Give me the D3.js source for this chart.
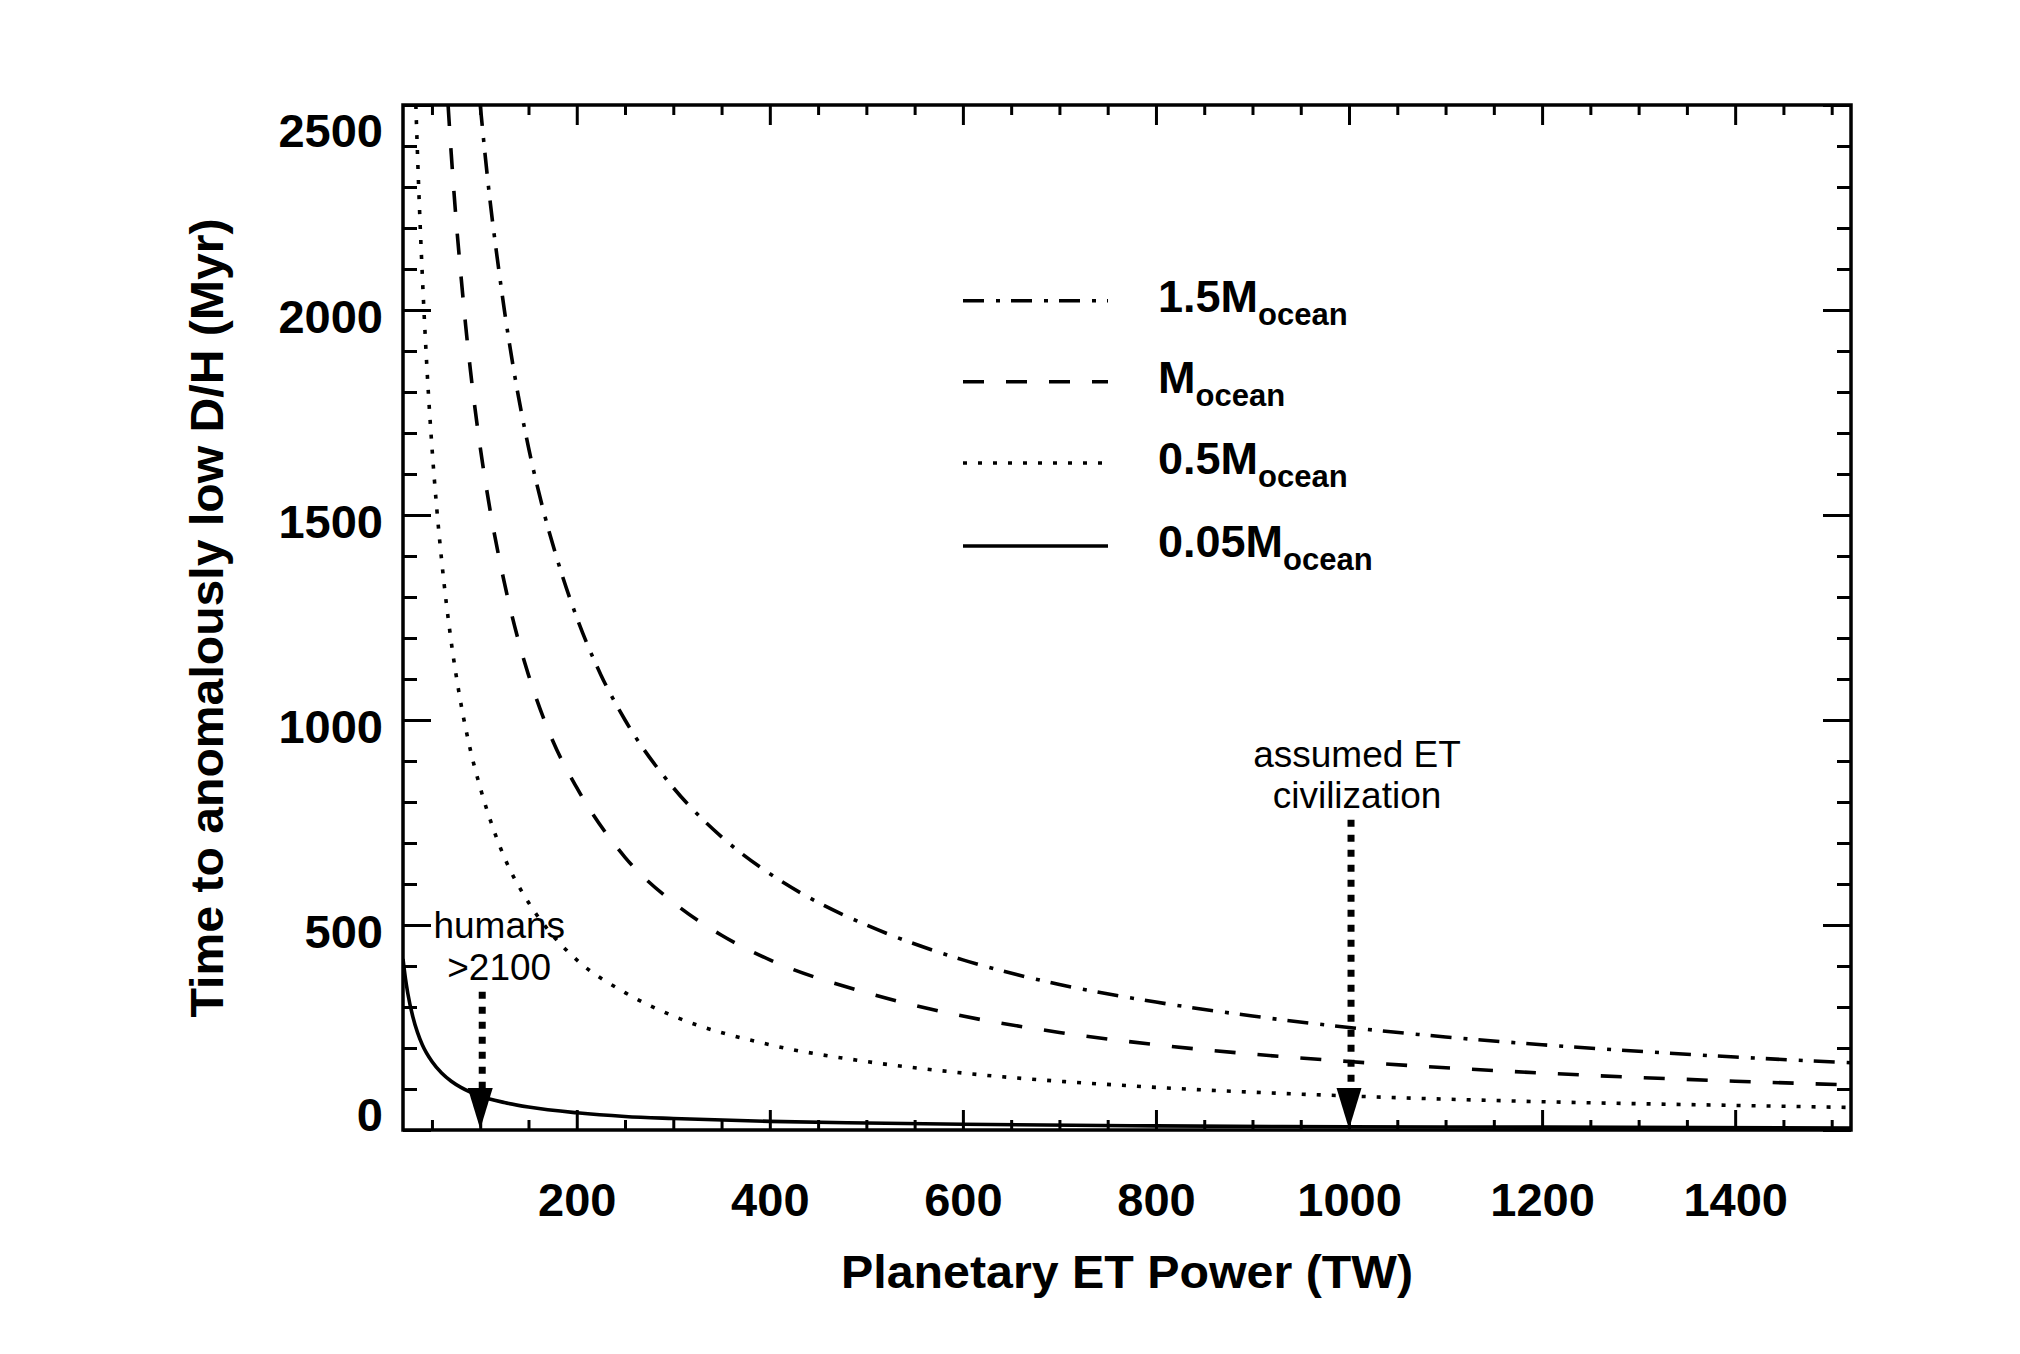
<!DOCTYPE html>
<html>
<head>
<meta charset="utf-8">
<script src="https://cdn.jsdelivr.net/npm/d3@7"></script>
<style>
  html, body { margin: 0; padding: 0; background: #ffffff; }
  svg { display: block; }
</style>
</head>
<body>
<svg id="chart" width="2020" height="1354"></svg>
<script>
// ---------- data ----------
const power15 = [100, 105, 110, 118, 125, 135, 150, 165, 180, 200, 225, 250, 300, 350, 400, 450, 500, 600, 700, 800, 900, 1000, 1100, 1200, 1300, 1400, 1520];
const time15  = [2500, 2380, 2270, 2120, 2000, 1850, 1665, 1515, 1390, 1250, 1110, 1000, 835, 715, 625, 555, 500, 415, 355, 312, 278, 250, 227, 208, 192, 178, 164];

const power10 = [66.7, 70, 75, 80, 85, 90, 100, 110, 125, 140, 150, 175, 200, 250, 300, 350, 400, 500, 600, 700, 800, 900, 1000, 1200, 1400, 1520];
const time10  = [2500, 2380, 2220, 2085, 1960, 1850, 1665, 1515, 1335, 1190, 1110, 950, 835, 665, 555, 475, 415, 335, 278, 238, 208, 185, 167, 139, 119, 110];

const power05 = [33.3, 36, 40, 45, 50, 55, 60, 70, 80, 90, 100, 115, 125, 150, 175, 200, 250, 300, 400, 500, 600, 800, 1000, 1200, 1400, 1520];
const time05  = [2500, 2315, 2085, 1850, 1665, 1515, 1390, 1190, 1040, 925, 835, 725, 665, 555, 475, 415, 335, 278, 208, 167, 139, 104, 83, 69, 60, 55];

const power005 = [20, 22.5, 25, 30, 35, 40, 50, 60, 70, 80, 100, 125, 150, 200, 250, 300, 400, 500, 600, 800, 1000, 1200, 1520];
const time005  = [417, 370, 333, 278, 238, 208, 167, 139, 119, 104, 83, 67, 56, 42, 33, 28, 21, 17, 14, 10, 8, 7, 5];

const seriesNames   = ["1.5", "", "0.5", "0.05"];   // prefix before "M_ocean"
const xTickLabels   = [200, 400, 600, 800, 1000, 1200, 1400];
const yTickLabels   = [0, 500, 1000, 1500, 2000, 2500];
const xMinorTicks   = d3.range(50, 1501, 50);
const yMinorTicks   = d3.range(0, 2501, 100);

const arrowPower    = [100, 1000];          // where the arrows point
const arrowStemTop  = [337, 757];           // Myr value at top of dotted stem
const arrowText     = [["humans", ">2100"], ["assumed ET", "civilization"]];

// ---------- layout ----------
const svg = d3.select("#chart");
svg.append("rect").attr("width", 2020).attr("height", 1354).attr("fill", "#fff");

const L = 403, R = 1851, T = 105, B = 1130;
const x = d3.scaleLinear().domain([20, 1520]).range([L, R]);
const y = d3.scaleLinear().domain([0, 2500]).range([B, T]);

const FONT = "'Liberation Sans', Arial, Helvetica, sans-serif";

svg.append("defs").append("clipPath").attr("id", "clip")
  .append("rect").attr("x", L).attr("y", T).attr("width", R - L).attr("height", B - T);

// ---------- axes ----------
const isMajorX = v => v % 200 === 0;
const isMajorY = v => v % 500 === 0;

function styleAxis(g) {
  g.select(".domain").remove();
  g.selectAll(".tick line").attr("stroke", "#000").attr("stroke-width", 3);
}

// bottom
const gB = svg.append("g").attr("transform", `translate(0,${B})`)
  .call(d3.axisBottom(x).tickValues(xMinorTicks).tickSizeOuter(0).tickSizeInner(-10).tickFormat(""));
styleAxis(gB);
gB.selectAll(".tick line").attr("y2", d => isMajorX(d) ? -20 : -10);

const gBL = svg.append("g").attr("transform", `translate(0,${B})`)
  .call(d3.axisBottom(x).tickValues(xTickLabels).tickSize(0).tickPadding(53).tickFormat(d3.format("d")));
gBL.select(".domain").remove();
gBL.selectAll("text").attr("font-family", FONT).attr("font-weight", "bold")
  .attr("font-size", 47).attr("fill", "#000");

// top
const gT = svg.append("g").attr("transform", `translate(0,${T})`)
  .call(d3.axisTop(x).tickValues(xMinorTicks).tickSizeOuter(0).tickSizeInner(-10).tickFormat(""));
styleAxis(gT);
gT.selectAll(".tick line").attr("y2", d => isMajorX(d) ? 20 : 10);

// left
const gL = svg.append("g").attr("transform", `translate(${L},0)`)
  .call(d3.axisLeft(y).tickValues(yMinorTicks).tickSizeOuter(0).tickSizeInner(-14).tickFormat(""));
styleAxis(gL);
gL.selectAll(".tick line").attr("x2", d => isMajorY(d) ? 28 : 14);

const gLL = svg.append("g").attr("transform", `translate(${L},0)`)
  .call(d3.axisLeft(y).tickValues(yTickLabels).tickSize(0).tickPadding(20).tickFormat(d3.format("d")));
gLL.select(".domain").remove();
gLL.selectAll("text").attr("font-family", FONT).attr("font-weight", "bold")
  .attr("font-size", 47).attr("fill", "#000")
  .attr("dy", d => d === 0 ? 0 : (d === 2500 ? 41 : 22));

// right
const gR = svg.append("g").attr("transform", `translate(${R},0)`)
  .call(d3.axisRight(y).tickValues(yMinorTicks).tickSizeOuter(0).tickSizeInner(-14).tickFormat(""));
styleAxis(gR);
gR.selectAll(".tick line").attr("x2", d => isMajorY(d) ? -28 : -14);

// frame
svg.append("rect").attr("x", L).attr("y", T).attr("width", R - L).attr("height", B - T)
  .attr("fill", "none").attr("stroke", "#000").attr("stroke-width", 3.5);

// axis titles
svg.append("text").attr("x", 1127).attr("y", 1288).attr("text-anchor", "middle")
  .attr("textLength", 572).attr("lengthAdjust", "spacingAndGlyphs")
  .attr("font-family", FONT).attr("font-weight", "bold").attr("font-size", 47)
  .text("Planetary ET Power (TW)");

svg.append("text").attr("transform", "translate(223,618) rotate(-90)")
  .attr("text-anchor", "middle").attr("textLength", 799).attr("lengthAdjust", "spacingAndGlyphs")
  .attr("font-family", FONT).attr("font-weight", "bold").attr("font-size", 46)
  .text("Time to anomalously low D/H (Myr)");

// ---------- curves ----------
const dashes = ["21,12,4,11", "21,22", "4,11", null];
const series = [
  {p: power15, t: time15},
  {p: power10, t: time10},
  {p: power05, t: time05},
  {p: power005, t: time005}
];
const line = d3.line().x(d => x(d[0])).y(d => y(d[1])).curve(d3.curveMonotoneX);
const gC = svg.append("g").attr("clip-path", "url(#clip)");
series.forEach((s, i) => {
  gC.append("path")
    .datum(d3.zip(s.p, s.t))
    .attr("d", line)
    .attr("fill", "none").attr("stroke", "#000").attr("stroke-width", 3.6)
    .attr("stroke-dasharray", dashes[i]);
});

// ---------- legend ----------
const legY = [300.7, 381.7, 463, 546];
const gLeg = svg.append("g");
seriesNames.forEach((nm, i) => {
  gLeg.append("line").attr("x1", 963).attr("x2", 1108).attr("y1", legY[i]).attr("y2", legY[i])
    .attr("stroke", "#000").attr("stroke-width", 3.6).attr("stroke-dasharray", dashes[i]);
  const t = gLeg.append("text").attr("x", 1158).attr("y", legY[i] + 11)
    .attr("font-family", FONT).attr("font-weight", "bold").attr("font-size", 45);
  t.append("tspan").text(nm + "M");
  t.append("tspan").attr("dy", 13).attr("font-size", 31).text("ocean");
});

// ---------- arrows ----------
arrowPower.forEach((p, i) => {
  const xc = x(p);
  const headTop = y(0) - 42;
  svg.append("line").attr("x1", xc + 2).attr("x2", xc + 2)
    .attr("y1", y(arrowStemTop[i])).attr("y2", headTop)
    .attr("stroke", "#000").attr("stroke-width", 7).attr("stroke-dasharray", "7,8");
  svg.append("path")
    .attr("d", `M${xc - 12.5},${headTop} L${xc + 12.5},${headTop} L${xc},${y(0) - 1} Z`)
    .attr("fill", "#000");
});

// annotation texts
const annOffsetX = [19, 8];
const annBase = [[938, 980], [767, 808]];
arrowText.forEach((lines, i) => {
  lines.forEach((s, j) => {
    svg.append("text").attr("x", x(arrowPower[i]) + annOffsetX[i]).attr("y", annBase[i][j])
      .attr("text-anchor", "middle").attr("font-family", FONT).attr("font-size", 37)
      .attr("fill", "#000").text(s);
  });
});
</script>
</body>
</html>
